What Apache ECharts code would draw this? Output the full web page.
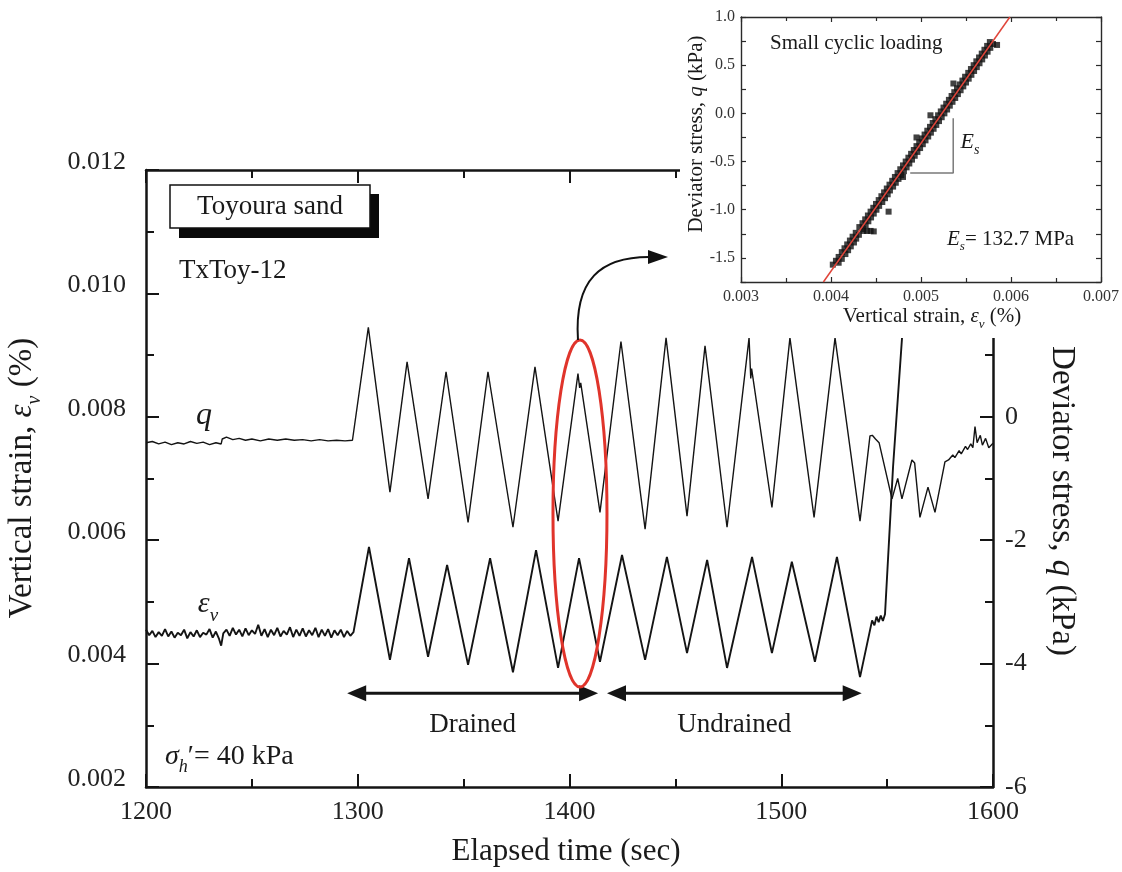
<!DOCTYPE html>
<html>
<head>
<meta charset="utf-8">
<script src="https://cdn.jsdelivr.net/npm/echarts@6/dist/echarts.min.js"></script>
<style>
  html, body { margin: 0; padding: 0; background: #ffffff; }
  #main { width: 1122px; height: 872px; }
</style>
</head>
<body>
<div id="main"></div>
<script>
// ---- Time history, test TxToy-12 (Toyoura sand) ----
const TIME_RANGE = [1200, 1600];           // elapsed time (sec)
const STRAIN_RANGE = [0.002, 0.012];       // vertical strain (%)
const STRESS_RANGE = [-6, 4];              // deviator stress (kPa)

// Deviator stress q (kPa) against elapsed time
const Q_TIME = [
  1200, 1203, 1206, 1209, 1212, 1215, 1218, 1221, 1224, 1227, 1230, 1233, 1235.5,
  1236, 1238, 1241, 1244, 1247, 1250, 1254, 1258, 1262, 1266, 1270, 1274, 1278,
  1282, 1286, 1290, 1294, 1297.5,
  1305, 1315.2, 1323.3, 1333.2, 1341.7, 1352.1, 1361.5, 1373.3, 1383.7, 1394.6,
  1404, 1404.8, 1405.3, 1414.4, 1424.3, 1435.7, 1445.6, 1455.5, 1464, 1474.4,
  1484.8, 1485.6, 1486.0, 1495.6, 1504.1, 1515.5, 1525.4, 1537.2,
  1541.9, 1543, 1544.5, 1546.2, 1552.3, 1555, 1557, 1561.7, 1563, 1565.5, 1569.3,
  1572.6, 1577.3, 1579, 1581, 1582, 1584, 1585, 1587, 1588, 1589.5, 1590.5, 1591.5,
  1592.5, 1594, 1595, 1596.5, 1598, 1600
];
const Q_VALUES = [
  -0.42, -0.40, -0.44, -0.41, -0.45, -0.42, -0.44, -0.40, -0.43, -0.41, -0.45, -0.42, -0.44,
  -0.36, -0.33, -0.37, -0.35, -0.38, -0.36, -0.39, -0.36, -0.38, -0.36, -0.38, -0.37, -0.39,
  -0.37, -0.39, -0.38, -0.39, -0.38,
  1.45, -1.22, 0.89, -1.33, 0.73, -1.71, 0.73, -1.79, 0.81, -1.69,
  0.70, 0.47, 0.55, -1.55, 1.22, -1.82, 1.28, -1.61, 1.15, -1.79,
  1.28, 0.62, 0.78, -1.47, 1.28, -1.63, 1.28, -1.69,
  -0.31, -0.30, -0.36, -0.42, -1.33, -1.00, -1.33, -0.70, -0.75, -1.63, -1.14,
  -1.55, -0.73, -0.70, -0.62, -0.66, -0.55, -0.60, -0.48, -0.53, -0.44, -0.50, -0.16,
  -0.42, -0.30, -0.46, -0.35, -0.50, -0.43
];

// Vertical strain (%) against elapsed time
const EV_TIME = [
  1200, 1201.5, 1203, 1204.5, 1206, 1207.5, 1209, 1210.5, 1212, 1213.5, 1215, 1216.5,
  1218, 1219.5, 1221, 1222.5, 1224, 1225.5, 1227, 1228.5, 1230, 1231.5, 1233, 1234.5,
  1235.5, 1236.5, 1238, 1239.5, 1241, 1242.5, 1244, 1245.5, 1247, 1248.5, 1250, 1251.5,
  1253, 1254.5, 1256, 1257.5, 1259, 1260.5, 1262, 1263.5, 1265, 1266.5, 1268, 1269.5,
  1271, 1272.5, 1274, 1275.5, 1277, 1278.5, 1280, 1281.5, 1283, 1284.5, 1286, 1287.5,
  1289, 1290.5, 1292, 1293.5, 1295, 1296.5, 1298,
  1305.3, 1315.2, 1324.2, 1333.2, 1342.2, 1352.1, 1362.5, 1373.3, 1384.2, 1394.6,
  1404.5, 1414.4, 1424.8, 1435.7, 1446, 1455.5, 1465, 1474.4, 1486.2, 1495.6,
  1505, 1515.9, 1526.3, 1537.2,
  1542.9, 1544, 1545, 1546, 1547, 1548, 1549, 1552.8, 1557, 1559.5, 1562
];
const EV_VALUES = [
  0.00455, 0.00446, 0.00453, 0.00443, 0.00451, 0.00445, 0.00456, 0.00444, 0.00452, 0.00442, 0.00450, 0.00446,
  0.00455, 0.00441, 0.00451, 0.00444, 0.00454, 0.00443, 0.00450, 0.00447, 0.00456, 0.00442, 0.00452, 0.00440,
  0.00429, 0.00449, 0.00455, 0.00445, 0.00458, 0.00447, 0.00455, 0.00444, 0.00457, 0.00446, 0.00454, 0.00448,
  0.00463, 0.00445, 0.00456, 0.00443, 0.00455, 0.00446, 0.00458, 0.00444, 0.00453, 0.00447, 0.00459, 0.00443,
  0.00455, 0.00445, 0.00457, 0.00444, 0.00454, 0.00446, 0.00458, 0.00443, 0.00455, 0.00445, 0.00456, 0.00442,
  0.00454, 0.00446, 0.00455, 0.00443, 0.00453, 0.00445, 0.00451,
  0.00589, 0.00406, 0.00571, 0.00411, 0.00560, 0.00398, 0.00571, 0.00386, 0.00584, 0.00393,
  0.00571, 0.00403, 0.00576, 0.00406, 0.00573, 0.00417, 0.00568, 0.00393, 0.00573, 0.00417,
  0.00565, 0.00403, 0.00573, 0.00378,
  0.00470, 0.00462, 0.00476, 0.00467, 0.00478, 0.00469, 0.00480, 0.00719, 0.00926, 0.01080, 0.01250
];

// Loading stages (sec) and the strain level the stage arrows are drawn at
const DRAINED_SPAN = [1295, 1413.5];
const UNDRAINED_SPAN = [1417.7, 1538];
const STAGE_ARROW_STRAIN = 0.00352;

// Cycle picked out for the q - strain plot
const HIGHLIGHT_TIME = [1392.2, 1417.7];
const HIGHLIGHT_STRAIN = [0.00362, 0.009245];

// ---- Small cyclic loading: q against vertical strain ----
const INSET_STRAIN_RANGE = [0.003, 0.007];
const INSET_Q_RANGE = [-1.75, 1.0];
const ES_MPA = 132.7;                 // secant Young's modulus
const FIT_STRAIN_AT_ZERO_Q = 0.005234;
const SLOPE_GUIDE = [[0.00488, -0.62], [0.005358, -0.62], [0.005358, -0.05]];
const INSET_POINTS = [
  [0.004020, -1.57], [0.004085, -1.55], [0.004055, -1.53], [0.004120, -1.51], [0.004085, -1.49],
  [0.004160, -1.46], [0.004120, -1.44], [0.004190, -1.42], [0.004150, -1.40], [0.004220, -1.38],
  [0.004180, -1.36], [0.004255, -1.34], [0.004210, -1.32], [0.004280, -1.30], [0.004240, -1.28],
  [0.004310, -1.26], [0.004275, -1.24], [0.004360, -1.22], [0.004400, -1.22], [0.004440, -1.22],
  [0.004475, -1.225], [0.004355, -1.20], [0.004315, -1.18], [0.004385, -1.16], [0.004350, -1.14],
  [0.004415, -1.12], [0.004380, -1.10], [0.004445, -1.08], [0.004410, -1.06], [0.004475, -1.04],
  [0.004640, -1.02], [0.004440, -1.02], [0.004505, -1.00], [0.004470, -0.98], [0.004535, -0.96],
  [0.004500, -0.94], [0.004570, -0.92], [0.004530, -0.90], [0.004600, -0.88], [0.004560, -0.86],
  [0.004630, -0.84], [0.004590, -0.82], [0.004655, -0.80], [0.004620, -0.78], [0.004690, -0.76],
  [0.004650, -0.74], [0.004720, -0.72], [0.004680, -0.70], [0.004750, -0.68], [0.004710, -0.66],
  [0.004800, -0.66], [0.004780, -0.64], [0.004740, -0.62], [0.004810, -0.60], [0.004770, -0.58],
  [0.004840, -0.56], [0.004800, -0.54], [0.004870, -0.52], [0.004830, -0.50], [0.004900, -0.48],
  [0.004860, -0.46], [0.004930, -0.44], [0.004890, -0.42], [0.004960, -0.40], [0.004920, -0.38],
  [0.004990, -0.36], [0.004950, -0.34], [0.005020, -0.32], [0.004980, -0.30], [0.005050, -0.28],
  [0.005010, -0.26], [0.004950, -0.25], [0.005080, -0.24], [0.005040, -0.22], [0.005110, -0.20],
  [0.005070, -0.18], [0.005140, -0.16], [0.005100, -0.14], [0.005170, -0.12], [0.005130, -0.10],
  [0.005200, -0.08], [0.005160, -0.06], [0.005230, -0.04], [0.005190, -0.02], [0.005105, -0.02],
  [0.005260, 0.00], [0.005220, 0.02], [0.005290, 0.04], [0.005250, 0.06], [0.005320, 0.08],
  [0.005280, 0.10], [0.005350, 0.12], [0.005310, 0.14], [0.005380, 0.16], [0.005340, 0.18],
  [0.005410, 0.20], [0.005370, 0.22], [0.005440, 0.24], [0.005400, 0.26], [0.005470, 0.28],
  [0.005430, 0.30], [0.005360, 0.31], [0.005500, 0.32], [0.005460, 0.34], [0.005530, 0.36],
  [0.005490, 0.38], [0.005560, 0.40], [0.005525, 0.42], [0.005590, 0.44], [0.005555, 0.46],
  [0.005620, 0.48], [0.005585, 0.50], [0.005650, 0.52], [0.005615, 0.54], [0.005680, 0.56],
  [0.005645, 0.58], [0.005710, 0.60], [0.005675, 0.62], [0.005740, 0.64], [0.005705, 0.66],
  [0.005770, 0.68], [0.005735, 0.70], [0.005800, 0.72], [0.005765, 0.74], [0.005845, 0.71]
];

// ---- drawing ----
const SERIF = "'Liberation Serif', 'Times New Roman', serif";
const INK = '#141414';
const zip = (xs, ys) => xs.map((x, i) => [x, ys[i]]);

// fitted line q = E * strain, E in kPa per % strain = ES_MPA * 1000 / 100
const slope = ES_MPA * 10;
const fitLine = INSET_Q_RANGE.map(q => [FIT_STRAIN_AT_ZERO_Q + q / slope, q]);

const chart = echarts.init(document.getElementById('main'));

function mainAxisStyle(extra) {
  return Object.assign({
    axisLine: { show: true, onZero: false, lineStyle: { color: INK, width: 2.5 } },
    axisTick: { show: true, inside: true, length: 13, lineStyle: { color: INK, width: 2 } },
    minorTick: { show: true, splitNumber: 2, length: 8, lineStyle: { color: INK, width: 2 } },
    splitLine: { show: false },
    minorSplitLine: { show: false }
  }, extra);
}
function insetAxisStyle(extra) {
  return Object.assign({
    z: 20,
    axisLine: { show: true, onZero: false, lineStyle: { color: '#2a2a2a', width: 1.4 } },
    axisTick: { show: true, inside: true, length: 5, lineStyle: { color: '#2a2a2a', width: 1.2 } },
    splitLine: { show: false }
  }, extra);
}

const option = {
  backgroundColor: '#ffffff',
  animation: false,
  grid: [
    { left: 146, top: 170, width: 847, height: 617 },
    { left: 741, top: 17, width: 363, height: 265, z: 20 }
  ],
  xAxis: [
    mainAxisStyle({
      type: 'value', gridIndex: 0, position: 'bottom',
      min: TIME_RANGE[0], max: TIME_RANGE[1], interval: 100,
      axisLabel: { fontFamily: SERIF, fontSize: 26, color: '#222', margin: 12, formatter: v => String(v) }
    }),
    mainAxisStyle({
      type: 'value', gridIndex: 0, position: 'top',
      min: TIME_RANGE[0], max: TIME_RANGE[1], interval: 100,
      axisLabel: { show: false }
    }),
    insetAxisStyle({
      type: 'value', gridIndex: 1, position: 'bottom',
      min: INSET_STRAIN_RANGE[0], max: INSET_STRAIN_RANGE[1], interval: 0.001,
      minorTick: { show: true, splitNumber: 2, length: 4, lineStyle: { color: '#2a2a2a', width: 1.2 } },
      axisLabel: { fontFamily: SERIF, fontSize: 16, color: '#333', margin: 7,
                   formatter: v => v.toFixed(3) }
    }),
    insetAxisStyle({
      type: 'value', gridIndex: 1, position: 'top',
      min: INSET_STRAIN_RANGE[0], max: INSET_STRAIN_RANGE[1], interval: 0.001,
      minorTick: { show: true, splitNumber: 2, length: 4, lineStyle: { color: '#2a2a2a', width: 1.2 } },
      axisLabel: { show: false }
    })
  ],
  yAxis: [
    mainAxisStyle({
      type: 'value', gridIndex: 0, position: 'left',
      min: STRAIN_RANGE[0], max: STRAIN_RANGE[1], interval: 0.002,
      axisLabel: { fontFamily: SERIF, fontSize: 26, color: '#222', margin: 20,
                   verticalAlign: 'bottom', lineHeight: 16, formatter: v => v.toFixed(3) }
    }),
    mainAxisStyle({
      type: 'value', gridIndex: 0, position: 'right',
      min: STRESS_RANGE[0], max: STRESS_RANGE[1], interval: 2,
      axisLabel: { fontFamily: SERIF, fontSize: 26, color: '#222', margin: 12 }
    }),
    insetAxisStyle({
      type: 'value', gridIndex: 1, position: 'left',
      min: INSET_Q_RANGE[0], max: INSET_Q_RANGE[1], interval: 0.25,
      axisLabel: {
        fontFamily: SERIF, fontSize: 16, color: '#333', margin: 6,
        formatter: v => (Math.abs(v * 2 - Math.round(v * 2)) < 1e-6 ? v.toFixed(1) : '')
      }
    }),
    insetAxisStyle({
      type: 'value', gridIndex: 1, position: 'right',
      min: INSET_Q_RANGE[0], max: INSET_Q_RANGE[1], interval: 0.25,
      axisLabel: { show: false }
    })
  ],
  series: [
    {
      name: 'q', type: 'line', xAxisIndex: 0, yAxisIndex: 1,
      data: zip(Q_TIME, Q_VALUES), showSymbol: false, symbol: 'none',
      lineStyle: { color: INK, width: 1.4 }, z: 2
    },
    {
      name: 'εv', type: 'line', xAxisIndex: 0, yAxisIndex: 0,
      data: zip(EV_TIME, EV_VALUES), showSymbol: false, symbol: 'none',
      lineStyle: { color: INK, width: 1.9 }, z: 2
    },
    {
      name: 'cyclic points', type: 'scatter', xAxisIndex: 2, yAxisIndex: 2,
      data: INSET_POINTS, symbol: 'rect', symbolSize: 6,
      itemStyle: { color: '#111' }, z: 22
    },
    {
      name: 'fit', type: 'line', xAxisIndex: 2, yAxisIndex: 2,
      data: fitLine, showSymbol: false, symbol: 'none',
      lineStyle: { color: '#e0453a', width: 1.5 }, z: 23
    },
    {
      name: 'slope', type: 'line', xAxisIndex: 2, yAxisIndex: 2,
      data: SLOPE_GUIDE, showSymbol: false, symbol: 'none',
      lineStyle: { color: '#7a7a7a', width: 1.5 }, z: 21
    }
  ]
};
chart.setOption(option);

// ---- annotations ----
const px = (t, v) => chart.convertToPixel({ xAxisIndex: 0, yAxisIndex: 0 }, [t, v]);
const eA = px(HIGHLIGHT_TIME[0], HIGHLIGHT_STRAIN[1]);
const eB = px(HIGHLIGHT_TIME[1], HIGHLIGHT_STRAIN[0]);
const ecx = (eA[0] + eB[0]) / 2, ecy = (eA[1] + eB[1]) / 2;
const erx = (eB[0] - eA[0]) / 2, ery = (eB[1] - eA[1]) / 2;
const topY = ecy - ery;
const drainedMid = px((DRAINED_SPAN[0] + DRAINED_SPAN[1]) / 2, STAGE_ARROW_STRAIN)[0];
const undrainedMid = px((UNDRAINED_SPAN[0] + UNDRAINED_SPAN[1]) / 2, STAGE_ARROW_STRAIN)[0];

// double-headed arrow spanning a loading stage
function stageArrow(span) {
  const a = px(span[0], STAGE_ARROW_STRAIN), b = px(span[1], STAGE_ARROW_STRAIN);
  const y = a[1], L = 19, W = 8;
  return [
    { type: 'line', z: 6, silent: true, shape: { x1: a[0] + L - 2, y1: y, x2: b[0] - L + 2, y2: y },
      style: { stroke: INK, lineWidth: 3 } },
    { type: 'polygon', z: 6, silent: true, shape: { points: [[a[0], y], [a[0] + L, y - W], [a[0] + L, y + W]] },
      style: { fill: INK } },
    { type: 'polygon', z: 6, silent: true, shape: { points: [[b[0], y], [b[0] - L, y - W], [b[0] - L, y + W]] },
      style: { fill: INK } }
  ];
}

function txt(x, y, text, size, opts) {
  return Object.assign({
    type: 'text', x: x, y: y, z: 6, silent: true,
    style: Object.assign({
      text: text, fontFamily: SERIF, fontSize: size, fill: '#1a1a1a',
      align: 'left', verticalAlign: 'middle', textAlign: 'left', textVerticalAlign: 'middle'
    }, opts || {})
  });
}
function richTitle(x, y, text, size, rotation, z) {
  return {
    type: 'text', x: x, y: y, rotation: rotation, z: z, silent: true,
    style: {
      text: text, fill: '#1a1a1a', fontFamily: SERIF, fontSize: size,
      align: 'center', verticalAlign: 'middle', textAlign: 'center', textVerticalAlign: 'middle',
      rich: {
        a: { fontFamily: SERIF, fontSize: size, lineHeight: size * 1.4, fill: '#1a1a1a' },
        i: { fontFamily: SERIF, fontSize: size, fontStyle: 'italic', lineHeight: size * 1.4, fill: '#1a1a1a' },
        s: { fontFamily: SERIF, fontSize: Math.round(size * 0.62), fontStyle: 'italic',
             verticalAlign: 'bottom', lineHeight: Math.round(size * 0.62), fill: '#1a1a1a' }
      }
    }
  };
}

chart.setOption({
  graphic: [
    // axis titles of the time-history plot
    richTitle(22, 478, '{a|Vertical strain, }{i|ε}{s|v}{a| (%)}', 33, Math.PI / 2, 6),
    richTitle(1062, 501, '{a|Deviator stress, }{i|q}{a| (kPa)}', 33, -Math.PI / 2, 6),
    richTitle(566, 852, '{a|Elapsed time (sec)}', 31, 0, 6),

    // material tag with drop shadow
    { type: 'rect', z: 6, silent: true, shape: { x: 179, y: 194, width: 200, height: 44 }, style: { fill: '#0a0a0a' } },
    { type: 'rect', z: 7, silent: true, shape: { x: 170, y: 185, width: 200, height: 43 },
      style: { fill: '#ffffff', stroke: '#111', lineWidth: 1.5 } },
    Object.assign(txt(270, 207, 'Toyoura sand', 27, { align: 'center', textAlign: 'center' }), { z: 8 }),
    txt(179, 271, 'TxToy-12', 27),

    // series names
    txt(196, 416, 'q', 32, { fontStyle: 'italic' }),
    richTitle(208, 604, '{i|ε}{s|v}', 30, 0, 6),
    {
      type: 'text', x: 165, y: 757, z: 6, silent: true,
      style: {
        text: '{i|σ}{s|h}{a|\u2032= 40 kPa}', fontFamily: SERIF, fontSize: 28, fill: '#1a1a1a',
        align: 'left', verticalAlign: 'middle', textAlign: 'left', textVerticalAlign: 'middle',
        rich: {
          a: { fontFamily: SERIF, fontSize: 28, lineHeight: 38, fill: '#1a1a1a' },
          i: { fontFamily: SERIF, fontSize: 28, fontStyle: 'italic', lineHeight: 38, fill: '#1a1a1a' },
          s: { fontFamily: SERIF, fontSize: 18, fontStyle: 'italic', verticalAlign: 'bottom', lineHeight: 16, fill: '#1a1a1a' }
        }
      }
    },

    // loading stages
    ...stageArrow(DRAINED_SPAN),
    ...stageArrow(UNDRAINED_SPAN),
    txt(drainedMid, 725, 'Drained', 27, { align: 'center', textAlign: 'center' }),
    txt(undrainedMid, 725, 'Undrained', 27, { align: 'center', textAlign: 'center' }),

    // highlighted cycle and the pointer to the q - strain plot
    { type: 'ellipse', z: 6, silent: true, shape: { cx: ecx, cy: ecy, rx: erx, ry: ery },
      style: { fill: 'none', stroke: '#e0342b', lineWidth: 3 } },
    { type: 'bezierCurve', z: 6, silent: true,
      shape: { x1: ecx - 2, y1: topY, cpx1: ecx - 6, cpy1: topY - 60, cpx2: ecx + 20, cpy2: topY - 84, x2: ecx + 72, y2: topY - 83 },
      style: { fill: 'none', stroke: '#111', lineWidth: 2 } },
    { type: 'polygon', z: 6, silent: true,
      shape: { points: [[ecx + 68, topY - 90], [ecx + 88, topY - 83], [ecx + 68, topY - 76]] },
      style: { fill: '#111' } },

    // backdrop of the q - strain plot
    { type: 'rect', z: 10, silent: true, shape: { x: 680, y: 0, width: 442, height: 338 }, style: { fill: '#ffffff' } },
    richTitle(696, 134, '{a|Deviator stress, }{i|q}{a| (kPa)}', 21, Math.PI / 2, 24),
    richTitle(932, 316, '{a|Vertical strain, }{i|ε}{s|v}{a| (%)}', 21, 0, 24),
    Object.assign(txt(770, 43, 'Small cyclic loading', 21), { z: 24 }),
    richTitle(970, 142, '{i|E}{s|s}', 22, 0, 24),
    {
      type: 'text', x: 947, y: 239, z: 24, silent: true,
      style: {
        text: '{i|E}{s|s}{a|= ' + ES_MPA.toFixed(1) + ' MPa}', fontFamily: SERIF, fontSize: 21, fill: '#1a1a1a',
        align: 'left', verticalAlign: 'middle', textAlign: 'left', textVerticalAlign: 'middle',
        rich: {
          a: { fontFamily: SERIF, fontSize: 21, lineHeight: 28, fill: '#1a1a1a' },
          i: { fontFamily: SERIF, fontSize: 21, fontStyle: 'italic', lineHeight: 28, fill: '#1a1a1a' },
          s: { fontFamily: SERIF, fontSize: 13, fontStyle: 'italic', verticalAlign: 'bottom', lineHeight: 12, fill: '#1a1a1a' }
        }
      }
    }
  ]
});
</script>
</body>
</html>
